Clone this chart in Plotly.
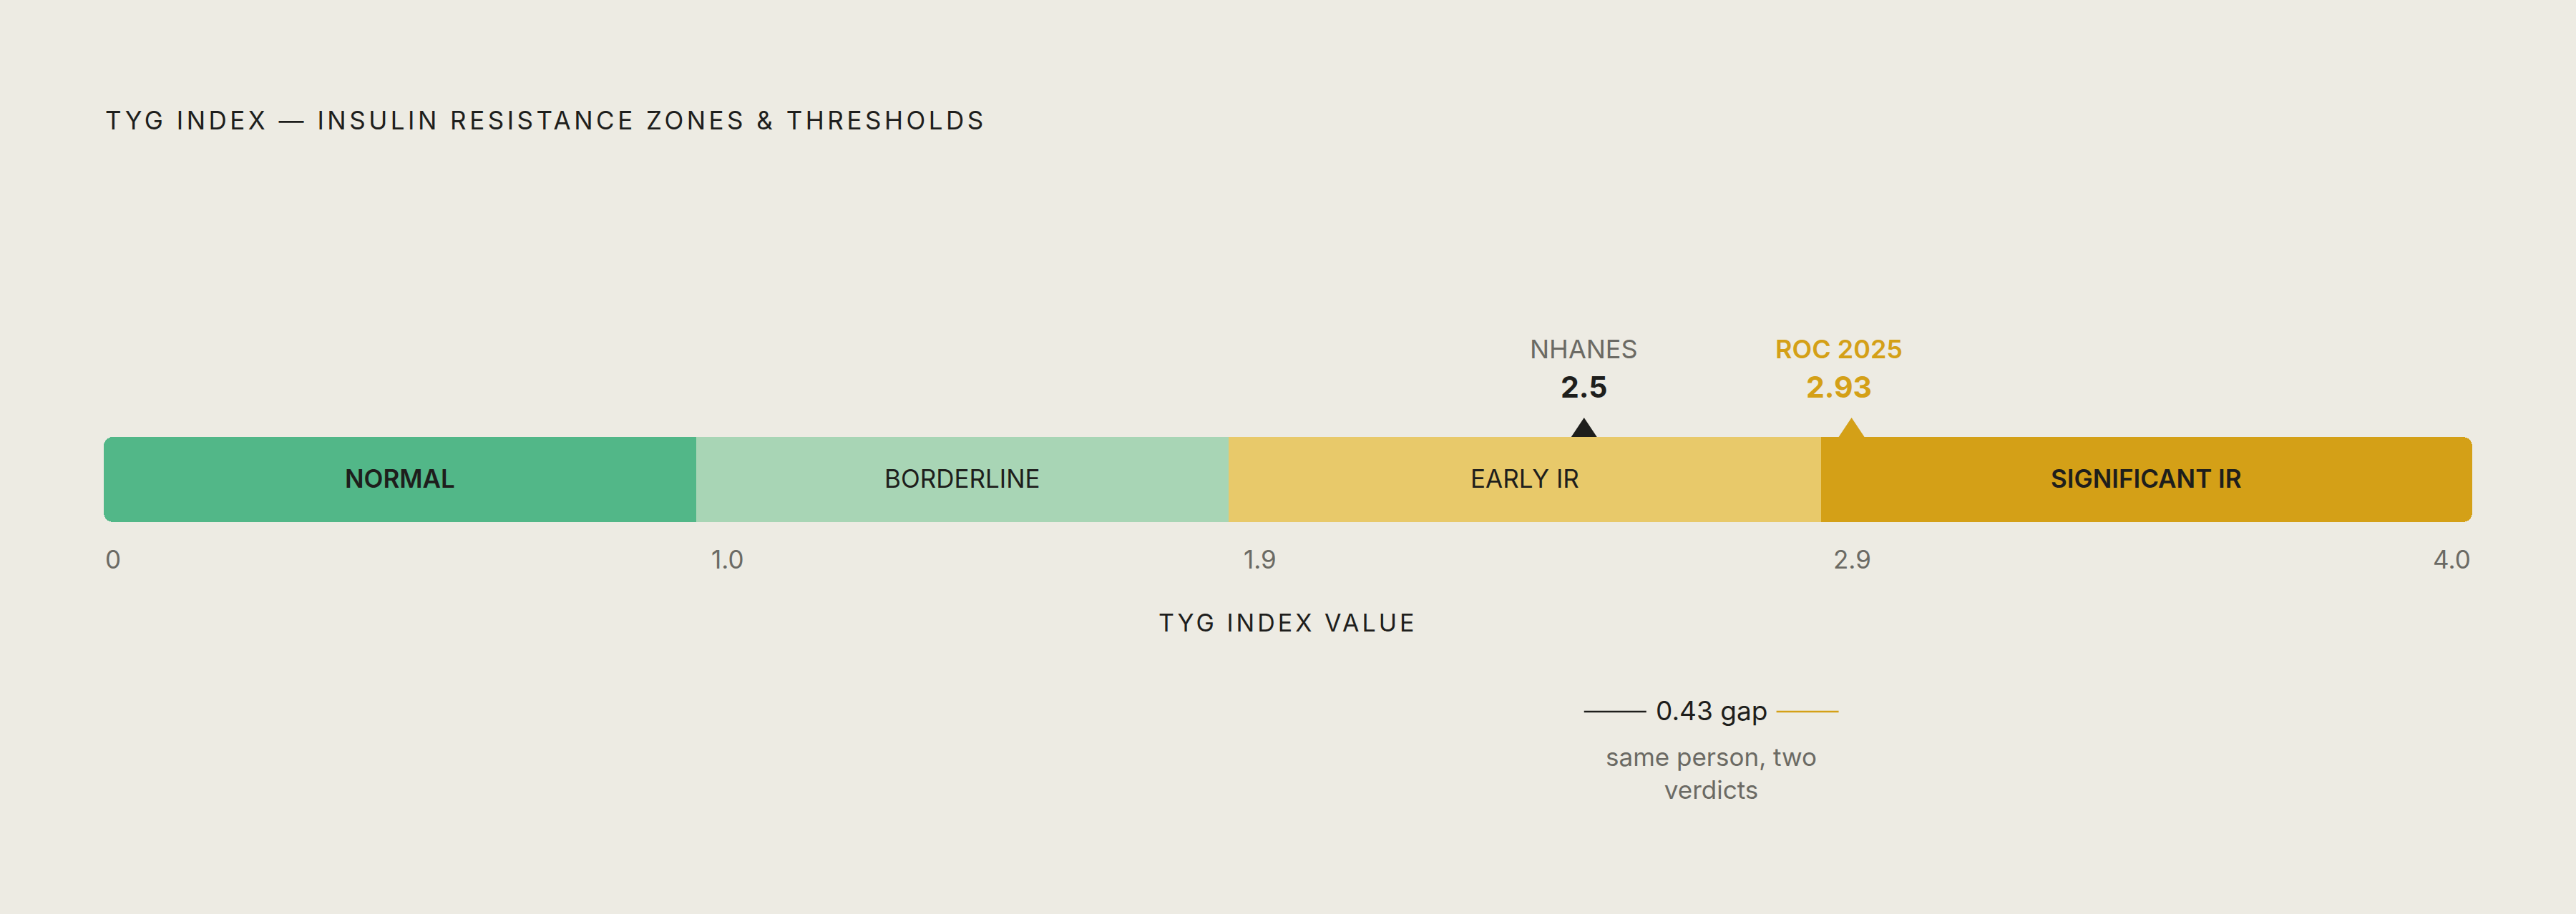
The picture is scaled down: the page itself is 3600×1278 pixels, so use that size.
import plotly.graph_objects as go

# ---- data ----
zone_names = ["NORMAL", "BORDERLINE", "EARLY IR", "SIGNIFICANT IR"]
zone_starts = [0.0, 1.0, 1.9, 2.9]
zone_ends = [1.0, 1.9, 2.9, 4.0]
zone_colors = ["#52B788", "#A8D5B5", "#E8C96A", "#D4A017"]
zone_bold = [True, False, False, True]

tick_values = [0.0, 1.0, 1.9, 2.9, 4.0]
tick_labels = ["0", "1.0", "1.9", "2.9", "4.0"]

threshold_names = ["NHANES", "ROC 2025"]
threshold_values = [2.5, 2.93]
threshold_colors = ["#1E1E1C", "#D4A017"]
threshold_label_colors = ["#6B6A64", "#D4A017"]

title_text = "TYG INDEX — INSULIN RESISTANCE ZONES & THRESHOLDS"
axis_title = "TYG INDEX VALUE"
note_text = "same person, two<br>verdicts"

# ---- layout constants ----
W, H = 3600, 1278
BG = "#EDEBE3"
DARK = "#1E1E1C"
GRAY = "#6B6A64"
FONT = "Inter"


def P(px):
    return 1 - px / H


def spaced(t, ls):
    return f'<span style="letter-spacing:{ls}px">{t}</span>'


fig = go.Figure()

n = len(zone_names)
for i, (name, s, e, c, b) in enumerate(zip(zone_names, zone_starts, zone_ends, zone_colors, zone_bold)):
    rad = 13 if i in (0, n - 1) else 0
    fig.add_trace(go.Bar(
        orientation="h", y=[0], x=[e - s], base=[s], width=1,
        marker=dict(color=c, line=dict(width=0), cornerradius=rad),
        hoverinfo="skip", showlegend=False,
    ))
    if rad:
        # square off the inner end of the rounded outer zones
        m = (s + e) / 2
        inner_s, inner_e = (m, e) if i == 0 else (s, m)
        fig.add_trace(go.Bar(
            orientation="h", y=[0], x=[inner_e - inner_s], base=[inner_s], width=1,
            marker=dict(color=c, line=dict(width=0), cornerradius=0),
            hoverinfo="skip", showlegend=False,
        ))

shapes = []
annotations = []

# zone labels
for name, s, e, b in zip(zone_names, zone_starts, zone_ends, zone_bold):
    annotations.append(dict(
        text=name, xref="x", yref="y", x=(s + e) / 2, y=0, yshift=2,
        xanchor="center", yanchor="middle", showarrow=False,
        font=dict(family=FONT, size=35, color=DARK, weight=600 if b else 400)))

# title
annotations.append(dict(
    text=spaced(title_text, 4.5), xref="paper", yref="paper", x=0, y=P(168),
    xanchor="left", yanchor="middle", showarrow=False,
    font=dict(family=FONT, size=35, color=DARK)))

# threshold markers + labels
tri_offsets = [0, 18]
for name, v, c, lc, off in zip(threshold_names, threshold_values, threshold_colors,
                               threshold_label_colors, tri_offsets):
    shapes.append(dict(
        type="path", xref="x", yref="y", xsizemode="pixel", ysizemode="pixel",
        xanchor=v, yanchor=0.5,
        path=f"M {off-18},0 L {off+18},0 L {off},27 Z",
        fillcolor=c, line=dict(width=0), layer="above"))
    annotations.append(dict(
        text=name, xref="x", yref="paper", x=v, y=P(488),
        xanchor="center", yanchor="middle", showarrow=False,
        font=dict(family=FONT, size=36, color=lc,
                  weight=600 if lc != GRAY else 400)))
    annotations.append(dict(
        text=f"<b>{v:g}</b>", xref="x", yref="paper", x=v, y=P(541),
        xanchor="center", yanchor="middle", showarrow=False,
        font=dict(family=FONT, size=41, color=c)))

# tick labels
for i, (tv, tl) in enumerate(zip(tick_values, tick_labels)):
    if i == 0:
        anchor, shift = "left", 0
    elif i == len(tick_values) - 1:
        anchor, shift = "right", 0
    else:
        anchor, shift = "center", 44
    annotations.append(dict(
        text=tl, xref="x", yref="paper", x=tv, y=P(782), xshift=shift,
        xanchor=anchor, yanchor="middle", showarrow=False,
        font=dict(family=FONT, size=35, color=GRAY)))

# axis title
annotations.append(dict(
    text=spaced(axis_title, 4), xref="paper", yref="paper", x=0.5, y=P(870),
    xanchor="center", yanchor="middle", showarrow=False,
    font=dict(family=FONT, size=34, color=DARK)))

# gap annotation
nh, roc = threshold_values
mid = (nh + roc) / 2
shapes.append(dict(type="line", xref="x", yref="paper", xsizemode="pixel", xanchor=nh,
                   x0=0, x1=87, y0=P(995), y1=P(995), line=dict(color=DARK, width=2.5)))
shapes.append(dict(type="line", xref="x", yref="paper", xsizemode="pixel", xanchor=roc,
                   x0=-87, x1=0, y0=P(995), y1=P(995),
                   line=dict(color=threshold_colors[1], width=2.5)))
annotations.append(dict(
    text=f"{roc - nh:.2f} gap", xref="x", yref="paper", x=mid, y=P(993),
    xanchor="center", yanchor="middle", showarrow=False,
    font=dict(family=FONT, size=37, color=DARK)))
annotations.append(dict(
    text=note_text, xref="x", yref="paper", x=mid, y=P(1081),
    xanchor="center", yanchor="middle", showarrow=False, align="center",
    font=dict(family=FONT, size=35, color=GRAY)))

# y range so that bar (-0.5..0.5) spans 611..730 px
px_per_unit = 730 - 611
center_px = (611 + 730) / 2
y_top = center_px / px_per_unit
y_bot = -(H - center_px) / px_per_unit

fig.update_layout(
    width=W, height=H, autosize=False,
    margin=dict(l=145, r=145, t=0, b=0, pad=0),
    paper_bgcolor=BG, plot_bgcolor=BG,
    barmode="overlay", bargap=0,
    xaxis=dict(range=[zone_starts[0], zone_ends[-1]], visible=False, fixedrange=True),
    yaxis=dict(range=[y_bot, y_top], visible=False, fixedrange=True),
    shapes=shapes, annotations=annotations,
    font=dict(family=FONT),
)

fig.write_html(
    "out.html",
    config={"displayModeBar": False},
    post_script="document.body.style.margin='0';document.body.style.background='%s';" % BG,
)
